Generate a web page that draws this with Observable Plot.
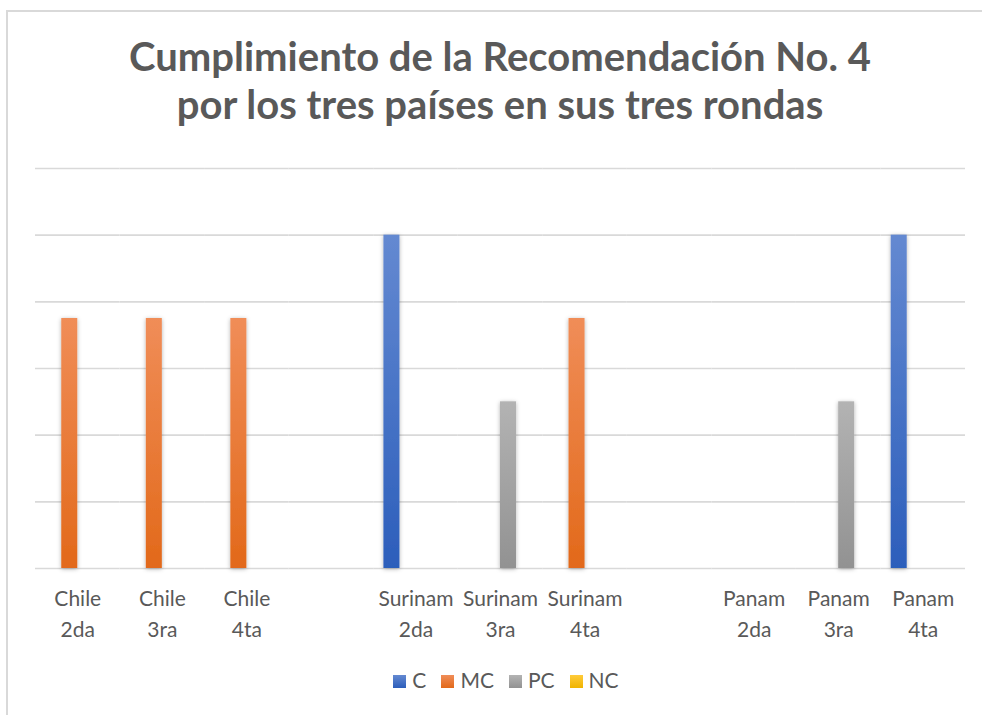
<!DOCTYPE html>
<html><head><meta charset="utf-8">
<script src="https://cdn.jsdelivr.net/npm/d3@7"></script>
<script src="https://cdn.jsdelivr.net/npm/@observablehq/plot@0.6"></script>
<style>
html{overflow:hidden;}
body{margin:0;background:#fff;width:982px;height:715px;overflow:hidden;position:relative;font-family:Lato,"Open Sans",sans-serif;}
#frame{position:absolute;left:6px;top:10px;width:1000px;height:800px;border-top:2px solid #d9d9d9;border-left:2px solid #d9d9d9;box-sizing:border-box;}
#title{position:absolute;left:0;top:32px;width:1000px;text-align:center;font-weight:700;font-size:40px;line-height:48px;color:#595959;}
#chart{position:absolute;left:0;top:140px;}
#legend{position:absolute;left:0;width:1012px;top:668px;display:flex;justify-content:center;gap:15px;font-size:21px;line-height:24px;color:#595959;}
#legend .item{display:flex;align-items:center;}
#legend .sw{width:13px;height:13px;margin-right:6px;margin-top:3px;}
</style>
</head><body>
<div id="frame"></div>
<div id="title">Cumplimiento de la Recomendación No. 4<br>por los tres países en sus tres rondas</div>
<div id="chart"></div>
<div id="legend"></div>
<script>
// categories (blank separators have unique whitespace keys)
const categories = ["Chile 2da","Chile 3ra","Chile 4ta"," ","Surinam 2da","Surinam 3ra","Surinam 4ta","  ","Panam 2da","Panam 3ra","Panam 4ta"];
const series = ["C","MC","PC","NC"];
const valuesC  = [0,0,0,null,1,0,0,null,0,0,1];
const valuesMC = [0.75,0.75,0.75,null,0,0,0.75,null,0,0,0];
const valuesPC = [0,0,0,null,0,0.5,0,null,0,0.5,0];
const valuesNC = [0,0,0,null,0,0,0,null,0,0,0];
const yTicks = [0,0.2,0.4,0.6,0.8,1,1.2];
const gradTop = {C:"#6489D1",MC:"#F08D58",PC:"#B3B3B3",NC:"#FFCB3A"};
const gradBottom = {C:"#2C5EBB",MC:"#E2691A",PC:"#929292",NC:"#F0B400"};

const valuesBySeries = {C: valuesC, MC: valuesMC, PC: valuesPC, NC: valuesNC};
const data = [];
categories.forEach((cat, i) => {
  series.forEach(s => {
    const v = valuesBySeries[s][i];
    if (v != null && v > 0) data.push({cat, series: s, value: v});
  });
});
// grid rows for every category so that every facet (even empty ones) is drawn
const gridData = categories.flatMap(cat => yTicks.map(v => ({cat, v})));

const plot = Plot.plot({
  width: 982,
  height: 520,
  marginLeft: 35,
  marginRight: 17,
  marginTop: 28,
  marginBottom: 92,
  style: {fontFamily: "Lato, 'Open Sans', sans-serif", background: "transparent"},
  fx: {domain: categories, padding: 0, round: false, label: null},
  x: {domain: series, paddingInner: 0, paddingOuter: 0.64, round: false, axis: null},
  y: {domain: [0, 1.2], axis: null},
  color: {domain: series, range: series.map(s => `url(#grad-${s})`)},
  marks: [
    Plot.ruleY(gridData, {fx: "cat", y: "v", stroke: "#d9d9d9", strokeWidth: 1.6}),
    Plot.barY(data, {fx: "cat", x: "series", y: "value", fill: "series"}),
    Plot.axisFx({
      anchor: "bottom", tickSize: 0, tickPadding: 15, fontSize: 21, lineHeight: 1.48,
      fill: "#595959", label: null,
      tickFormat: d => d.trim().replace(" ", "\n")
    })
  ]
});

// gradient + shadow definitions
const svg = d3.select(plot);
const defs = svg.insert("defs", ":first-child");
series.forEach(s => {
  const g = defs.append("linearGradient").attr("id", `grad-${s}`).attr("x1", 0).attr("y1", 0).attr("x2", 0).attr("y2", 1);
  g.append("stop").attr("offset", "0%").attr("stop-color", gradTop[s]);
  g.append("stop").attr("offset", "100%").attr("stop-color", gradBottom[s]);
});
const f = defs.append("filter").attr("id", "shadow").attr("x", "-50%").attr("y", "-10%").attr("width", "200%").attr("height", "120%");
f.append("feDropShadow").attr("dx", 0).attr("dy", 1).attr("stdDeviation", 2).attr("flood-color", "#000").attr("flood-opacity", 0.3);
svg.selectAll("rect").attr("filter", "url(#shadow)");

document.getElementById("chart").appendChild(plot);

// legend
const legend = d3.select("#legend");
series.forEach(s => {
  const it = legend.append("div").attr("class", "item");
  it.append("div").attr("class", "sw").style("background", `linear-gradient(${gradTop[s]}, ${gradBottom[s]})`);
  it.append("span").text(s);
});
</script>
</body></html>
